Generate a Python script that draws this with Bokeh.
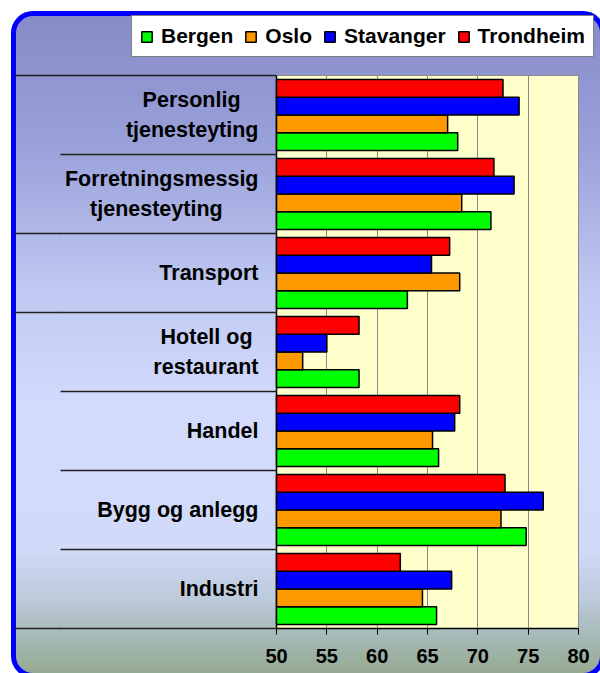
from bokeh.plotting import figure
from bokeh.models import (Range1d, FixedTicker, LinearAxis, Legend, LegendItem,
                          InlineStyleSheet, BoxAnnotation)
from bokeh.embed import file_html
from bokeh.resources import INLINE

# ---- data ----
NB = "\u00a0"
categories = ["Personlig" + NB * 3 + "\ntjenesteyting",
              "Forretningsmessig\ntjenesteyting" + NB * 6,
              "Transport", "Hotell og" + NB + "\nrestaurant", "Handel",
              "Bygg og anlegg", "Industri"]
series = ["Bergen", "Oslo", "Stavanger", "Trondheim"]
bergen = [68.0, 71.3, 63.0, 58.2, 66.1, 74.8, 65.9]
oslo = [67.0, 68.4, 68.2, 52.6, 65.5, 72.3, 64.5]
stavanger = [74.1, 73.6, 65.4, 55.0, 67.7, 76.5, 67.4]
trondheim = [72.5, 71.6, 67.2, 58.2, 68.2, 72.7, 62.3]
x_ticks = [50, 55, 60, 65, 70, 75, 80]

values = [bergen, oslo, stavanger, trondheim]
colors = ["#00FF00", "#FF9900", "#0000FF", "#FF0000"]

n = len(categories)
centers = [n - 1 - i + 0.5 for i in range(n)]
boundaries = list(range(n + 1))
long_bounds = [0, 4, 5, 7]

FONT = "Liberation Sans"
bar_h = 0.225
offsets = [-1.5 * bar_h, -0.5 * bar_h, 0.5 * bar_h, 1.5 * bar_h]

# layout (pixels)
W, H = 600, 673
frame_l, frame_r, frame_t, frame_b = 125, 597, 14, 628
plot_l, plot_t, plot_w = 276, 75, 302.0
cat_px = (frame_b - plot_t) / n
ppu = plot_w / (x_ticks[-1] - x_ticks[0])
x_start = x_ticks[0] - (plot_l - frame_l) / ppu
x_end = x_ticks[-1] + (frame_r - plot_l - plot_w) / ppu
y_end = n + (plot_t - frame_t) / cat_px

css = """
:host { position: relative !important; overflow: hidden !important; }
:host::before {
  content: ""; position: absolute; left: 11px; top: 11px;
  width: 594px; height: 667px; box-sizing: border-box;
  border: 5px solid #0000FF; border-radius: 22px; z-index: -1;
  background: linear-gradient(to bottom,
     #878BC8 0%, #9AA1DA 20%, #C0C9F2 42%, #D3DBFD 60%,
     #D1DAF8 81%, #BBC9D9 89%, #A8BAB8 94%, #95AA92 100%);
}
"""

p = figure(width=W, height=H,
           x_range=Range1d(x_start, x_end),
           y_range=Range1d(0, y_end),
           output_backend="svg", toolbar_location=None,
           min_border_left=frame_l, min_border_right=W - frame_r,
           min_border_top=frame_t, min_border_bottom=H - frame_b)
p.stylesheets = [InlineStyleSheet(css=css)]
p.border_fill_color = None
p.background_fill_color = None
p.outline_line_color = None

# plot area (yellow) drawn under the grid
plot_area = BoxAnnotation(left=x_ticks[0], right=x_ticks[-1], bottom=0, top=n,
                          fill_color="#FFFFCC", fill_alpha=1.0,
                          line_color="#8C8C8C", line_alpha=1.0, line_width=1,
                          level="underlay")
p.center = [plot_area] + list(p.center)

# category axis line at x = 50
p.segment(x0=[x_ticks[0]], y0=[0], x1=[x_ticks[0]], y1=[n],
          line_color="#000000", line_width=1.5)

renderers = []
for s, vals, off, col in zip(series, values, offsets, colors):
    r = p.hbar(y=[c + off for c in centers], left=x_ticks[0], right=vals,
               height=bar_h, fill_color=col, line_color="#000000",
               line_width=1.5)
    renderers.append(r)

# x axis
xa = p.xaxis[0]
xa.ticker = FixedTicker(ticks=x_ticks)
xa.bounds = (x_ticks[0], x_ticks[-1])
xa.major_tick_out = 6
xa.major_tick_in = 0
xa.minor_tick_out = 0
xa.minor_tick_in = 0
xa.axis_line_color = "#000000"
xa.axis_line_width = 1.5
xa.major_tick_line_width = 1
xa.major_label_text_font = FONT
xa.major_label_text_font_style = "bold"
xa.major_label_text_font_size = "20px"
xa.major_label_text_color = "#000000"
xa.major_label_standoff = 14

p.ygrid.visible = False
grid_ok = True
try:
    p.xgrid.cross_bounds = (0, n)
except Exception:
    grid_ok = False
if grid_ok:
    p.xgrid.ticker = FixedTicker(ticks=x_ticks[1:])
    p.xgrid.grid_line_color = "#8C8C8C"
    p.xgrid.grid_line_width = 1
else:
    p.xgrid.visible = False
    xa.major_tick_in = int(frame_b - plot_t)
    xa.major_tick_line_color = "#8C8C8C"

# y axis: category labels and separators
ya = p.yaxis[0]
ya.ticker = FixedTicker(ticks=centers, minor_ticks=boundaries)
ya.major_label_overrides = {c: lab for c, lab in zip(centers, categories)}
ya.major_tick_out = 0
ya.major_tick_in = 0
ya.minor_tick_out = frame_l - 60
ya.minor_tick_in = plot_l - frame_l
ya.minor_tick_line_color = "#222222"
ya.minor_tick_line_width = 1.5
ya.axis_line_color = None
ya.major_label_standoff = frame_l - (frame_l - 60) - 258
ya.major_label_text_font = FONT
ya.major_label_text_font_style = "bold"
ya.major_label_text_font_size = "21.5px"
ya.major_label_text_color = "#000000"
ya.major_label_text_line_height = 1.27

ya2 = LinearAxis(ticker=FixedTicker(ticks=[], minor_ticks=long_bounds))
ya2.axis_line_color = None
ya2.major_tick_out = 0
ya2.major_tick_in = 0
ya2.minor_tick_out = 47
ya2.minor_tick_in = 0
ya2.minor_tick_line_color = "#222222"
ya2.minor_tick_line_width = 1.5
ya2.major_label_standoff = 0
ya2.major_label_text_font_size = "0px"
p.add_layout(ya2, "left")

legend = Legend(items=[LegendItem(label=s, renderers=[r])
                       for s, r in zip(series, renderers)],
                orientation="horizontal",
                location=(131 - frame_l, frame_b - 57))
legend.label_text_font = FONT
legend.label_text_font_style = "bold"
legend.label_text_font_size = "21px"
legend.label_text_color = "#000000"
legend.glyph_width = 13
legend.glyph_height = 13
legend.label_standoff = 8
legend.spacing = 11
legend.padding = 8
legend.margin = 0
legend.border_line_color = "#000000"
legend.border_line_width = 1
legend.background_fill_color = "#FFFFFF"
legend.background_fill_alpha = 1.0
p.add_layout(legend, "center")

open("out.html", "w").write(file_html(p, INLINE))
